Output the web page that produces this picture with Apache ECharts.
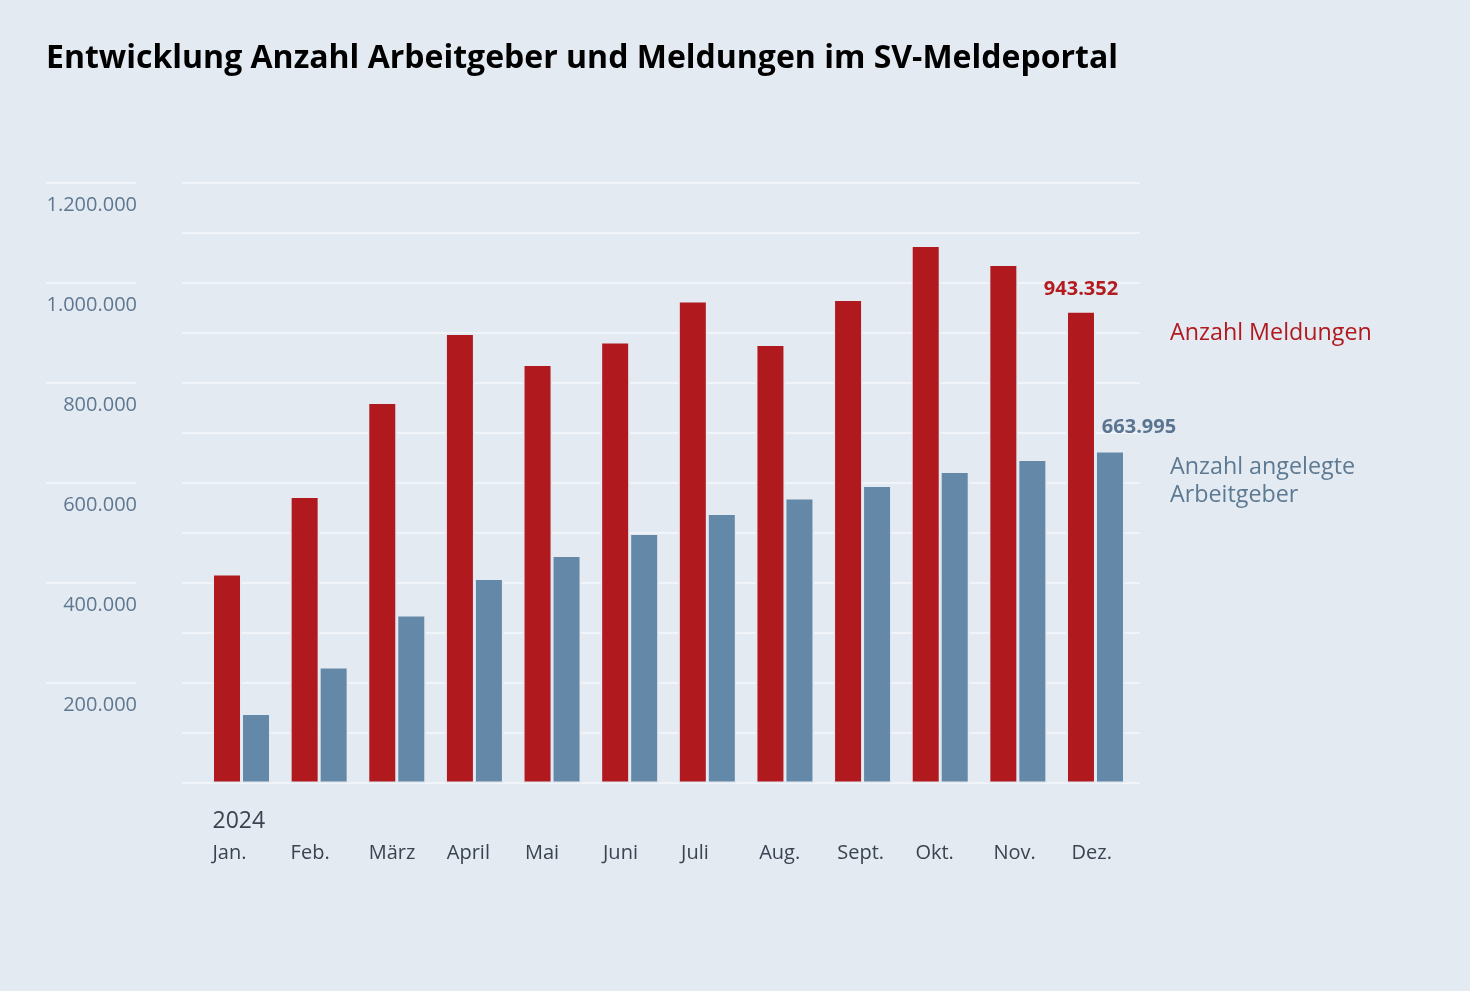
<!DOCTYPE html>
<html><head><meta charset="utf-8">
<script src="https://cdn.jsdelivr.net/npm/echarts@6/dist/echarts.min.js"></script>
<style>html,body{margin:0;padding:0;background:#e4eaf2;}#c{width:1470px;height:991px;}</style>
</head><body><div id="c"></div>
<script>
const months = ['Jan.','Feb.','März','April','Mai','Juni','Juli','Aug.','Sept.','Okt.','Nov.','Dez.'];
const yearLabel = '2024';
const seriesNames = ['Anzahl Meldungen', 'Anzahl angelegte Arbeitgeber'];
const meldungen = [418000, 573000, 761000, 899000, 837000, 882000, 964000, 877000, 967000, 1075000, 1037000, 943352];
const arbeitgeber = [139000, 232000, 336000, 409000, 455000, 499000, 539000, 570000, 595000, 623000, 647000, 663995];
const yTickLabels = [200000, 400000, 600000, 800000, 1000000, 1200000];

const BG = '#e4eaf2', RED = '#b0191e', BLUE = '#6488a7', AXT = '#5f7891', GRIDC = '#f6f8fb';
const FONT = '"Open Sans", "Noto Sans", sans-serif';
const fmt = v => String(v).replace(/\B(?=(\d{3})+(?!\d))/g, '.');
const last = months.length - 1;

const chart = echarts.init(document.getElementById('c'));
const option = {
  backgroundColor: BG,
  animation: false,
  textStyle: { fontFamily: FONT },
  title: [
    { text: 'Entwicklung Anzahl Arbeitgeber und Meldungen im SV-Meldeportal', left: 46, top: 39, padding: 0,
      textStyle: { fontSize: 32, fontWeight: 'bold', color: '#000', fontFamily: FONT, lineHeight: 40 } },
    { text: seriesNames[0], left: 1170, top: 319, padding: 0,
      textStyle: { fontSize: 23.3, fontWeight: 'normal', color: RED, fontFamily: FONT, lineHeight: 28 } },
    { text: 'Anzahl angelegte\nArbeitgeber', left: 1170, top: 453, padding: 0,
      textStyle: { fontSize: 23.3, fontWeight: 'normal', color: '#5d7a93', fontFamily: FONT, lineHeight: 28 } }
  ],
  grid: [
    { left: 182, width: 958, top: 183, height: 600 },
    { left: 202.7, width: 931.6, top: 183, height: 600 },
    { left: 173.45, width: 937.2, top: 183, height: 600 },
    { left: 46, width: 90, top: 183, height: 500 }
  ],
  xAxis: [
    { gridIndex: 0, type: 'value', show: false, min: 0, max: 1 },
    { gridIndex: 1, type: 'category', data: months, show: false },
    { gridIndex: 2, type: 'category', data: months,
      axisLine: { show: false }, axisTick: { show: false },
      axisLabel: { interval: 0, align: 'left', margin: 22,
        formatter: (v, i) => (i === 0 ? '{y|' + yearLabel + '}' : '{y| }') + '\n{m|' + v + '}',
        rich: { y: { fontSize: 23, lineHeight: 32, color: '#3a4350', fontFamily: FONT },
                m: { fontSize: 20, lineHeight: 32, color: '#3a4350', fontFamily: FONT } } } },
    { gridIndex: 3, type: 'value', show: false, min: 0, max: 1 }
  ],
  yAxis: [
    { gridIndex: 0, type: 'value', min: 0, max: 1200000, interval: 100000,
      axisLine: { show: false }, axisTick: { show: false },
      splitLine: { lineStyle: { color: GRIDC, width: 1.5 } },
      axisLabel: { margin: 45, verticalAlign: 'top', padding: [12, 0, 0, 0], fontSize: 20, color: AXT, fontFamily: FONT,
        formatter: v => yTickLabels.indexOf(v) >= 0 ? fmt(v) : '' } },
    { gridIndex: 1, type: 'value', min: 0, max: 1200000, show: false },
    { gridIndex: 2, type: 'value', min: 0, max: 1200000, show: false },
    { gridIndex: 3, type: 'value', min: 200000, max: 1200000, interval: 200000,
      axisLine: { show: false }, axisTick: { show: false }, axisLabel: { show: false },
      splitLine: { lineStyle: { color: GRIDC, width: 1.5 } } }
  ],
  series: [
    { type: 'bar', name: seriesNames[0], xAxisIndex: 1, yAxisIndex: 1, barWidth: 29, barGap: '0%',
      itemStyle: { color: RED, borderColor: BG, borderWidth: 1.5 },
      data: meldungen.map((v, i) => i === last ? { value: v, label: { show: true, position: 'top', distance: 12,
        formatter: p => fmt(p.value), fontSize: 20, fontWeight: 'bold', color: '#b31b1f', fontFamily: FONT } } : v) },
    { type: 'bar', name: seriesNames[1], xAxisIndex: 1, yAxisIndex: 1, barWidth: 29, barGap: '0%',
      itemStyle: { color: BLUE, borderColor: BG, borderWidth: 1.5 },
      data: arbeitgeber.map((v, i) => i === last ? { value: v, label: { show: true, position: 'top', distance: 14, offset: [29, 0],
        formatter: p => fmt(p.value), fontSize: 20, fontWeight: 'bold', color: '#5a7590', fontFamily: FONT } } : v) }
  ]
};
chart.setOption(option);
</script></body></html>
